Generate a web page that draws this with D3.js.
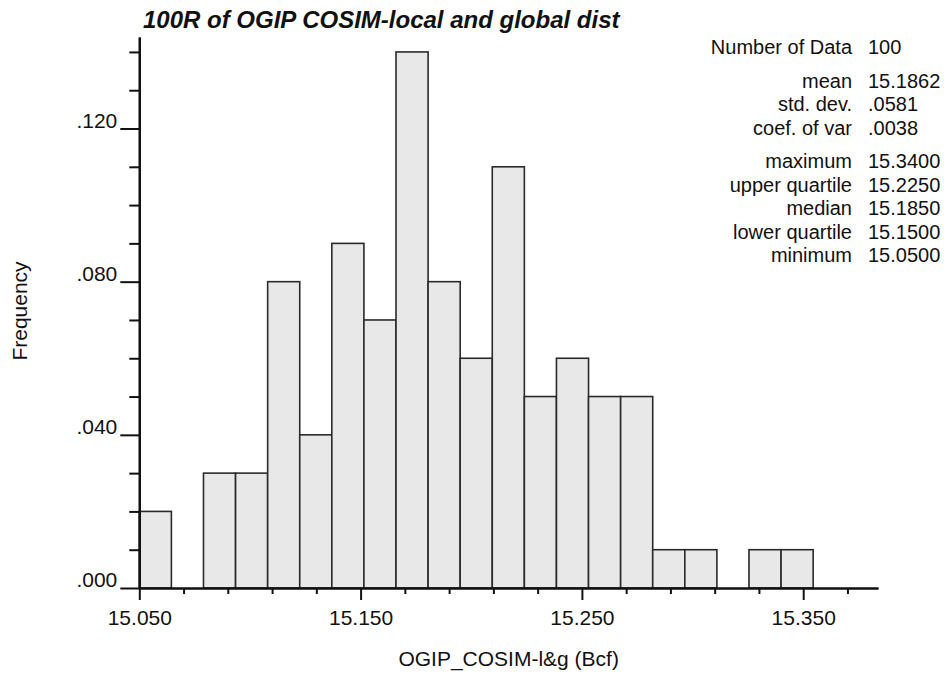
<!DOCTYPE html>
<html>
<head>
<meta charset="utf-8">
<script src="https://cdn.jsdelivr.net/npm/d3@7"></script>
<style>
  html, body { margin: 0; padding: 0; background: #fff; }
  svg { display: block; font-family: "Liberation Sans", Arial, Helvetica, sans-serif; }
</style>
</head>
<body>
<svg id="chart" width="948" height="677"></svg>
<script>
// Histogram classes: 21 classes of width 0.0145 starting at the minimum
const binStart = 15.05;
const binWidth = 0.0145;
const frequencies = [0.02, 0.00, 0.03, 0.03, 0.08, 0.04, 0.09, 0.07, 0.14, 0.08, 0.06,
                     0.11, 0.05, 0.06, 0.05, 0.05, 0.01, 0.01, 0.00, 0.01, 0.01];

// Axis ticks
const xMajorTicks = [15.05, 15.15, 15.25, 15.35];
const xMinorTicks = [15.07, 15.09, 15.11, 15.13, 15.17, 15.19, 15.21, 15.23,
                     15.27, 15.29, 15.31, 15.33, 15.37];
const yMajorTicks = [0, 0.04, 0.08, 0.12];
const yMinorTicks = [0.01, 0.02, 0.03, 0.05, 0.06, 0.07, 0.09, 0.10, 0.11, 0.13, 0.14];

// Summary statistics shown at the upper right, in three groups
const statLabels = [["Number of Data"],
                    ["mean", "std. dev.", "coef. of var"],
                    ["maximum", "upper quartile", "median", "lower quartile", "minimum"]];
const statValues = [["100"],
                    ["15.1862", ".0581", ".0038"],
                    ["15.3400", "15.2250", "15.1850", "15.1500", "15.0500"]];

const titleText = "100R of OGIP COSIM-local and global dist";
const xTitle = "OGIP_COSIM-l&g (Bcf)";
const yTitle = "Frequency";

const svg = d3.select("#chart");
const plotLeft = 139.3, plotRight = 878, plotBottom = 588, plotTop = 37;

const x = d3.scaleLinear().domain([15.05, 15.3838]).range([plotLeft, plotRight]);
const y = d3.scaleLinear().domain([0, 0.1439]).range([plotBottom, plotTop]);

const bins = frequencies.map((f, i) => ({
  x0: binStart + i * binWidth,
  x1: binStart + (i + 1) * binWidth,
  f: f
}));

// Bars
svg.append("g")
  .selectAll("rect")
  .data(bins.filter(d => d.f > 0))
  .join("rect")
  .attr("x", d => x(d.x0))
  .attr("y", d => y(d.f))
  .attr("width", d => x(d.x1) - x(d.x0))
  .attr("height", d => y(0) - y(d.f))
  .attr("fill", "#e8e8e8")
  .attr("stroke", "#2a2a2a")
  .attr("stroke-width", 1.6);

const tickFont = 21;

// X axis: minor ticks, then major ticks with labels
const xMinor = d3.axisBottom(x).tickValues(xMinorTicks).tickSize(6).tickSizeOuter(0).tickFormat("");
const gxMinor = svg.append("g").attr("transform", `translate(0,${plotBottom})`).call(xMinor);
const xMajor = d3.axisBottom(x).tickValues(xMajorTicks).tickSize(12).tickSizeOuter(0)
  .tickPadding(10).tickFormat(d3.format(".3f"));
const gxMajor = svg.append("g").attr("transform", `translate(0,${plotBottom})`).call(xMajor);

// Y axis: minor ticks, then major ticks with labels
const yMinor = d3.axisLeft(y).tickValues(yMinorTicks).tickSize(10).tickSizeOuter(0).tickFormat("");
const gyMinor = svg.append("g").attr("transform", `translate(${plotLeft},0)`).call(yMinor);
const yMajor = d3.axisLeft(y).tickValues(yMajorTicks).tickSize(19).tickSizeOuter(0)
  .tickPadding(3).tickFormat(d => d3.format(".3f")(d).replace(/^0/, ""));
const gyMajor = svg.append("g").attr("transform", `translate(${plotLeft},0)`).call(yMajor);

[gxMinor, gxMajor, gyMinor, gyMajor].forEach(g => {
  g.selectAll("path.domain").attr("stroke", "#111").attr("stroke-width", 2.2);
  g.selectAll(".tick line").attr("stroke", "#111").attr("stroke-width", 2);
  g.selectAll(".tick text").attr("fill", "#111").attr("font-size", tickFont)
    .attr("font-family", "'Liberation Sans', Arial, Helvetica, sans-serif");
});
// y labels sit on their tick lines
gyMajor.selectAll(".tick text").attr("dy", "-0.05em");

// Title
svg.append("text")
  .attr("x", 143).attr("y", 28)
  .attr("font-size", 24).attr("font-weight", "bold").attr("font-style", "italic")
  .attr("fill", "#111")
  .text(titleText);

// Axis titles
svg.append("text")
  .attr("x", (plotLeft + plotRight) / 2).attr("y", 666)
  .attr("text-anchor", "middle").attr("font-size", 21).attr("fill", "#111")
  .text(xTitle);

svg.append("text")
  .attr("transform", "translate(27,311) rotate(-90)")
  .attr("text-anchor", "middle").attr("font-size", 21).attr("fill", "#111")
  .text(yTitle);

// Statistics block
const rowStep = 23.5, groupGap = 10, statFont = 20;
let rowY = 54;
const stats = svg.append("g").attr("font-size", statFont).attr("fill", "#111");
statLabels.forEach((group, gi) => {
  group.forEach((lab, ri) => {
    stats.append("text").attr("x", 852).attr("y", rowY).attr("text-anchor", "end").text(lab);
    stats.append("text").attr("x", 868).attr("y", rowY).text(statValues[gi][ri]);
    rowY += rowStep;
  });
  rowY += groupGap;
});
</script>
</body>
</html>
